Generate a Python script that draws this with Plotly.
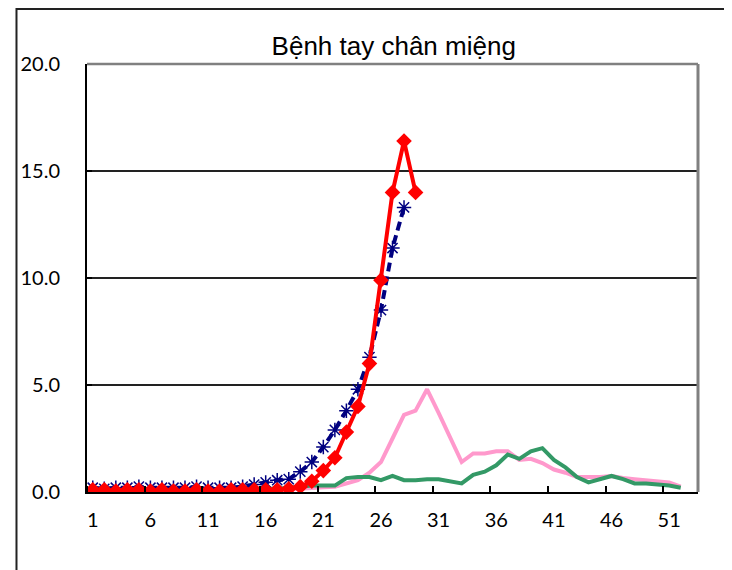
import plotly.graph_objects as go

title_text = "Bệnh tay chân miệng"
x_tick_vals = [1, 6, 11, 16, 21, 26, 31, 36, 41, 46, 51]
x_tick_text = ["1", "6", "11", "16", "21", "26", "31", "36", "41", "46", "51"]
y_tick_vals = [0, 5, 10, 15, 20]
y_tick_text = ["0.0", "5.0", "10.0", "15.0", "20.0"]

red_vals = [0.1, 0.1, 0.05, 0.1, 0.1, 0.05, 0.1, 0.05, 0.05, 0.1, 0.05, 0.05, 0.1, 0.1,
            0.1, 0.1, 0.1, 0.15, 0.25, 0.5, 1.0, 1.6, 2.8, 4.0, 6.0, 9.9, 14.0, 16.4, 14.0]
blue_vals = [0.2, 0.15, 0.2, 0.2, 0.25, 0.2, 0.2, 0.2, 0.2, 0.25, 0.2, 0.2, 0.2, 0.25,
             0.35, 0.45, 0.55, 0.6, 0.95, 1.4, 2.1, 2.9, 3.8, 4.8, 6.3, 8.5, 11.4, 13.3]
pink_vals = [0.05, 0.05, 0.05, 0.05, 0.05, 0.05, 0.05, 0.05, 0.05, 0.05, 0.05, 0.05, 0.05,
             0.05, 0.05, 0.1, 0.1, 0.1, 0.15, 0.2, 0.22, 0.25, 0.4, 0.55, 0.9, 1.4, 2.5,
             3.6, 3.8, 4.8, 3.7, 2.6, 1.4, 1.8, 1.8, 1.9, 1.9, 1.5, 1.55, 1.35, 1.05, 0.9,
             0.7, 0.7, 0.7, 0.75, 0.65, 0.6, 0.55, 0.5, 0.45, 0.25]
green_vals = [0.1, 0.1, 0.1, 0.1, 0.1, 0.1, 0.1, 0.1, 0.1, 0.1, 0.1, 0.1, 0.1, 0.1,
              0.1, 0.15, 0.15, 0.2, 0.25, 0.3, 0.3, 0.3, 0.65, 0.7, 0.7, 0.55, 0.75,
              0.55, 0.55, 0.6, 0.6, 0.5, 0.4, 0.8, 0.95, 1.25, 1.75, 1.55, 1.9, 2.05,
              1.5, 1.15, 0.7, 0.45, 0.6, 0.75, 0.6, 0.4, 0.4, 0.35, 0.3, 0.2]

def weeks(vals):
    return list(range(1, len(vals) + 1))

tick_font = dict(family="Lato, Liberation Sans", size=20, color="black")

fig = go.Figure()
fig.add_trace(go.Scatter(x=weeks(pink_vals), y=pink_vals, mode="lines",
                         line=dict(color="#FF99CC", width=4), showlegend=False))
fig.add_trace(go.Scatter(x=weeks(green_vals), y=green_vals, mode="lines",
                         line=dict(color="#339966", width=4), showlegend=False))
fig.add_trace(go.Scatter(x=weeks(blue_vals), y=blue_vals, mode="lines+markers",
                         line=dict(color="#000080", width=4, dash="9px,5px"),
                         marker=dict(symbol="asterisk-open", size=12,
                                     line=dict(color="#000080", width=1.5)),
                         showlegend=False))
fig.add_trace(go.Scatter(x=weeks(red_vals), y=red_vals, mode="lines+markers",
                         line=dict(color="#FF0000", width=4),
                         marker=dict(symbol="diamond", size=12, color="#FF0000"),
                         showlegend=False))

fig.update_layout(
    width=732, height=570,
    margin=dict(l=75, r=42, t=56, b=86),
    paper_bgcolor="white", plot_bgcolor="white",
    title=dict(text=title_text, x=0.502, xref="paper", y=1 - 38 / 570,
               yref="container", xanchor="center", yanchor="middle",
               font=dict(family="Liberation Sans, Arial", size=26, color="black")),
    xaxis=dict(range=[0.5, 53.5], tickmode="array", tickvals=x_tick_vals,
               ticktext=x_tick_text, ticks="", showgrid=False, zeroline=False,
               showline=True, linecolor="black", linewidth=2,
               ticklabelstandoff=9, tickfont=tick_font,
               minor=dict(tickmode="linear", tick0=0.5, dtick=5, ticks="inside",
                          ticklen=6, tickwidth=1.5, tickcolor="black", showgrid=False)),
    yaxis=dict(range=[0, 20], tickmode="array", tickvals=y_tick_vals,
               ticktext=y_tick_text, ticks="inside", ticklen=5, tickwidth=1.5,
               tickcolor="black", showgrid=True, gridcolor="#222222", gridwidth=1.5,
               zeroline=False, showline=True, linecolor="black", linewidth=2,
               ticklabelstandoff=21, tickfont=tick_font),
    shapes=[
        dict(type="line", xref="paper", yref="paper", x0=0, x1=1, y0=1, y1=1,
             line=dict(color="#808080", width=2.5), layer="above"),
        dict(type="line", xref="paper", yref="paper", x0=1, x1=1, y0=0, y1=1,
             line=dict(color="#808080", width=3), layer="above"),
        dict(type="rect", xref="paper", yref="paper", x0=-0.1154, x1=1.0455,
             y0=-0.25, y1=1.1285, line=dict(color="#222222", width=2),
             fillcolor="rgba(0,0,0,0)", layer="below"),
    ],
)

fig.write_html("out.html")
